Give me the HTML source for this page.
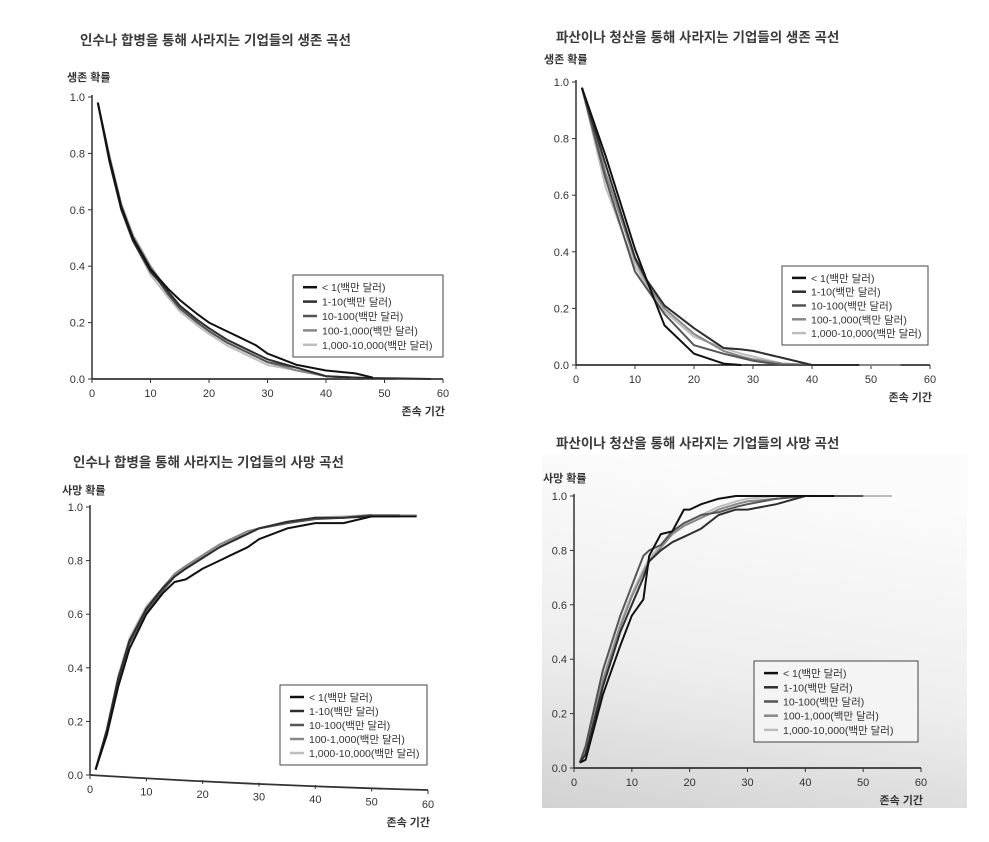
<!DOCTYPE html>
<html><head><meta charset="utf-8">
<style>
html,body{margin:0;padding:0;background:#fff;}
body{width:989px;height:837px;overflow:hidden;font-family:"Liberation Sans","Noto Sans CJK KR",sans-serif;}
svg text{font-family:"Liberation Sans","Noto Sans CJK KR",sans-serif;}
</style></head>
<body>
<svg id="chart" width="989" height="837" viewBox="0 0 989 837" xmlns="http://www.w3.org/2000/svg">
<defs>
<linearGradient id="scanbg" x1="0.2" y1="0" x2="0" y2="1">
<stop offset="0" stop-color="#fbfbfb"/><stop offset="0.55" stop-color="#eeeeee"/><stop offset="1" stop-color="#d2d2d2"/>
</linearGradient>
</defs>
<rect x="542" y="455" width="425" height="353" fill="url(#scanbg)"/>
</svg>
<script>
const seriesLabels = ["< 1(백만 달러)","1-10(백만 달러)","10-100(백만 달러)","100-1,000(백만 달러)","1,000-10,000(백만 달러)"];
const seriesColors = ["#111","#2e2e2e","#555","#888","#bdbdbd"];
const yTicks = [0,0.2,0.4,0.6,0.8,1.0];
const yTickLabels = ["0.0","0.2","0.4","0.6","0.8","1.0"];
const xTicks = [0,10,20,30,40,50,60];

// Panel 1: M&A survival
const p1X = [1,3,5,7,10,13,15,18,20,23,25,28,30,35,40,45,48,52,58];
const p1S0 = [0.98,0.78,0.61,0.5,0.39,0.32,0.28,0.23,0.2,0.17,0.15,0.12,0.09,0.05,0.03,0.02,0.005,null,null];
const p1S1 = [0.98,0.77,0.6,0.49,0.38,0.31,0.26,0.21,0.18,0.14,0.12,0.09,0.07,0.04,0.01,0.005,0.003,0.002,0.0];
const p1S2 = [0.98,0.78,0.61,0.5,0.39,0.3,0.25,0.2,0.17,0.13,0.11,0.08,0.06,0.04,0.01,0.005,0.003,0.001,null];
const p1S3 = [0.98,0.79,0.62,0.51,0.4,0.31,0.26,0.2,0.17,0.13,0.11,0.08,0.06,0.03,0.01,0.004,0.002,null,null];
const p1S4 = [0.98,0.78,0.6,0.49,0.37,0.29,0.24,0.19,0.16,0.12,0.1,0.07,0.05,0.03,0.01,0.004,0.002,0.001,0.0];

// Panel 2: bankruptcy survival
const p2X = [1,5,10,12,15,20,25,28,30,35,40,48,55];
const p2S0 = [0.98,0.74,0.41,0.3,0.14,0.04,0.005,0,null,null,null,null,null];
const p2S1 = [0.98,0.71,0.38,0.3,0.21,0.13,0.06,0.055,0.05,0.025,0,0,null];
const p2S2 = [0.98,0.66,0.33,0.27,0.18,0.07,0.04,0.025,0.015,0,0,0,null];
const p2S3 = [0.98,0.68,0.37,0.29,0.2,0.11,0.05,0.03,0.02,0.005,0,0,0];
const p2S4 = [0.98,0.63,0.35,0.28,0.19,0.1,0.06,0.04,0.03,0.005,0,null,null];

// Panel 3: M&A death
const p3X = [1,3,5,7,10,13,15,17,20,23,25,28,30,35,40,45,50,55,58];
const p3S0 = [0.02,0.15,0.33,0.47,0.6,0.68,0.72,0.73,0.77,0.8,0.82,0.85,0.88,0.92,0.94,0.94,0.965,0.965,0.965];
const p3S1 = [0.02,0.17,0.36,0.5,0.62,0.7,0.74,0.77,0.81,0.85,0.87,0.9,0.92,0.945,0.96,0.96,0.965,0.965,null];
const p3S2 = [0.02,0.16,0.35,0.49,0.61,0.69,0.74,0.77,0.81,0.85,0.87,0.9,0.92,0.94,0.955,0.96,0.97,null,null];
const p3S3 = [0.02,0.16,0.36,0.5,0.62,0.7,0.75,0.78,0.82,0.86,0.88,0.91,0.92,0.94,0.96,0.96,0.97,0.97,null];
const p3S4 = [0.02,0.17,0.37,0.51,0.63,0.7,0.75,0.78,0.82,0.86,0.88,0.9,0.92,0.94,0.96,0.965,0.97,0.97,0.97];

// Panel 4: bankruptcy death
const p4X = [1,2,5,8,10,12,13,15,17,19,20,22,25,28,30,35,40,45,50,55];
const p4S0 = [0.02,0.03,0.27,0.45,0.56,0.62,0.78,0.86,0.87,0.95,0.95,0.97,0.99,1,1,1,1,1,null,null];
const p4S1 = [0.02,0.05,0.3,0.5,0.6,0.7,0.76,0.8,0.83,0.85,0.86,0.88,0.93,0.95,0.95,0.97,1,1,null,null];
const p4S2 = [0.02,0.08,0.36,0.56,0.67,0.78,0.8,0.82,0.87,0.9,0.91,0.93,0.94,0.96,0.97,0.99,1,1,1,null];
const p4S3 = [0.02,0.06,0.32,0.52,0.63,0.72,0.76,0.81,0.86,0.89,0.9,0.92,0.95,0.97,0.98,0.99,1,1,1,null];
const p4S4 = [0.02,0.07,0.33,0.53,0.64,0.73,0.77,0.82,0.87,0.9,0.91,0.93,0.96,0.98,0.99,1,1,1,1,1];

const svg = document.getElementById('chart');
const NS = 'http://www.w3.org/2000/svg';
function mk(tag, attrs, parent){
  const e = document.createElementNS(NS, tag);
  for (const k in attrs) e.setAttribute(k, attrs[k]);
  (parent||svg).appendChild(e);
  return e;
}
function txt(x,y,s,size,anchor,weight,fill,parent){
  const t = mk('text',{x:x,y:y,'font-size':size,'text-anchor':anchor||'start','font-weight':weight||'normal',fill:fill||'#333'},parent);
  t.textContent = s;
  return t;
}

function panel(cfg, xs, series){
  const g = mk('g',{});
  
  
  const sx = v => cfg.x0 + (cfg.x1 - cfg.x0) * v / 60;
  const sy = v => cfg.y0 - (cfg.y0 - cfg.y1) * v;
  const skew = v => (cfg.skew || 0) * v / 60;
  const title = txt(cfg.tx, cfg.ty, cfg.title, 13.5, 'start', 'bold', '#3a3a3a', g);
  
  
  const yl = txt(cfg.ylx, cfg.yly, cfg.ylabel, 11, 'start', 'bold', '#333', g);
  
  
  const xl = txt(cfg.x1 + 2, cfg.y0 + 36 + (cfg.skew||0), '존속 기간', 11, 'end', 'bold', '#333', g);
  
  
  const ya = mk('line',{x1:cfg.x0,y1:cfg.y1-2,x2:cfg.x0,y2:cfg.y0,stroke:'#333','stroke-width':1.5},g);
  
  
  const xa = mk('path',{d:'M'+cfg.x0+','+cfg.y0+' Q'+((cfg.x0+cfg.x1)/2)+','+(cfg.y0+(cfg.skew||0)*0.7)+' '+cfg.x1+','+(cfg.y0+(cfg.skew||0)),stroke:'#333','stroke-width':1.8,fill:'none'},g);
  
  
  yTicks.forEach((v,i)=>{
    mk('line',{x1:cfg.x0-4,y1:sy(v),x2:cfg.x0,y2:sy(v),stroke:'#333','stroke-width':1},g);
    const t = txt(cfg.x0-7, sy(v)+4, yTickLabels[i], 11, 'end', 'normal', '#333', g);
    
    
  });
  xTicks.forEach(v=>{
    const yy = cfg.y0 + skew(v);
    mk('line',{x1:sx(v),y1:yy,x2:sx(v),y2:yy+4,stroke:'#333','stroke-width':1},g);
    const t = txt(sx(v), yy+18, String(v), 11, 'middle', 'normal', '#333', g);
    
    
  });
  for (let s = series.length-1; s >= 0; s--){
    let d = '';
    series[s].forEach((v,i)=>{
      if (v === null) return;
      d += (d ? ' L' : 'M') + sx(xs[i]).toFixed(1) + ',' + sy(v).toFixed(1);
    });
    const p = mk('path',{d:d,fill:'none',stroke:seriesColors[s],'stroke-width':2,'stroke-linejoin':'round'},g);
    
    
  }
  const lg = mk('g',{},g);
  
  
  mk('rect',{x:cfg.lx,y:cfg.ly,width:cfg.lw,height:cfg.lh,fill:cfg.lbg||'#fff',stroke:'#444','stroke-width':1},lg);
  const step = (cfg.lh - 10) / 5;
  seriesLabels.forEach((lab,i)=>{
    const yy = cfg.ly + 5 + step*(i+0.5);
    const e = mk('g',{},lg);
    
    
    mk('line',{x1:cfg.lx+10,y1:yy,x2:cfg.lx+24,y2:yy,stroke:seriesColors[i],'stroke-width':2.5},e);
    txt(cfg.lx+29, yy+4, lab, 10.5, 'start', 'normal', '#333', e);
  });
}

panel({name:'ma-survival-chart',title:'인수나 합병을 통해 사라지는 기업들의 생존 곡선',tx:80,ty:45,ylabel:'생존 확률',ylx:67,yly:81,
  x0:92,x1:443,y0:379,y1:97,lx:293,ly:275,lw:150,lh:82}, p1X, [p1S0,p1S1,p1S2,p1S3,p1S4]);
panel({name:'bankruptcy-survival-chart',title:'파산이나 청산을 통해 사라지는 기업들의 생존 곡선',tx:556,ty:42,ylabel:'생존 확률',ylx:544,yly:63,
  x0:576,x1:930,y0:365,y1:82,lx:782,ly:266,lw:146,lh:79}, p2X, [p2S0,p2S1,p2S2,p2S3,p2S4]);
panel({name:'ma-death-chart',title:'인수나 합병을 통해 사라지는 기업들의 사망 곡선',tx:73,ty:467,ylabel:'사망 확률',ylx:62,yly:494,
  x0:90,x1:428,y0:775,y1:507,skew:15,lx:280,ly:685,lw:147,lh:80}, p3X, [p3S0,p3S1,p3S2,p3S3,p3S4]);
panel({name:'bankruptcy-death-chart',title:'파산이나 청산을 통해 사라지는 기업들의 사망 곡선',tx:556,ty:448,ylabel:'사망 확률',ylx:543,yly:482,
  x0:574,x1:921,y0:768,y1:496,lx:754,ly:661,lw:164,lh:81,lbg:'#f4f4f4'}, p4X, [p4S0,p4S1,p4S2,p4S3,p4S4]);
</script>
</body></html>
